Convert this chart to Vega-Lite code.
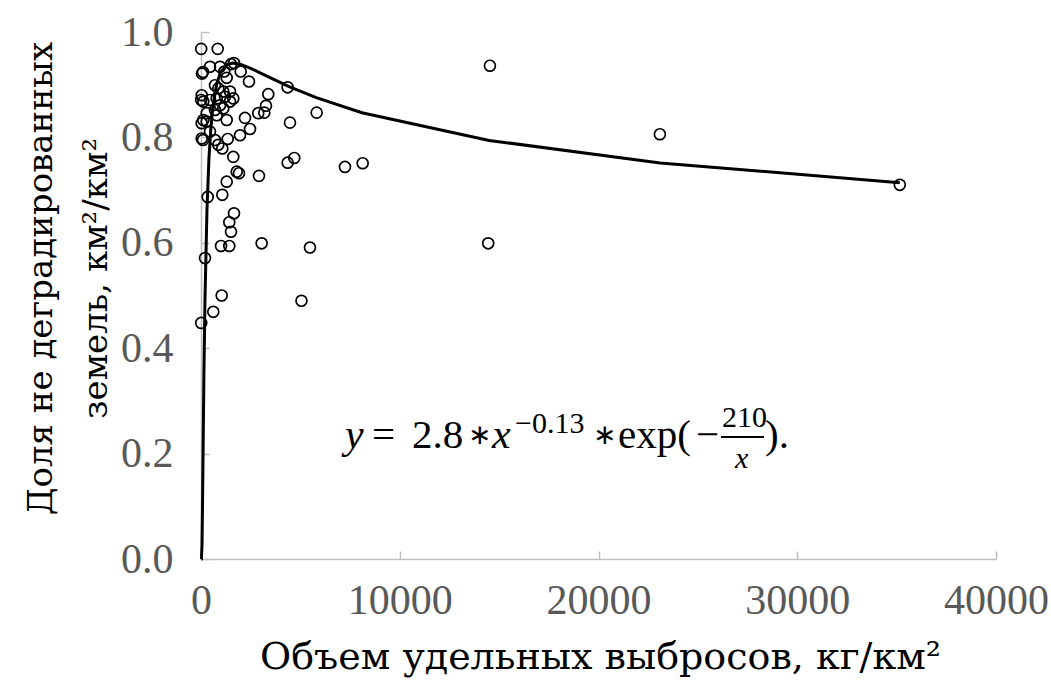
{
  "$schema": "https://vega.github.io/schema/vega-lite/v6.json",
  "width": 795,
  "height": 527,
  "autosize": {"type": "none"},
  "padding": {"left": 201, "top": 32, "right": 55, "bottom": 124},
  "background": "white",
  "config": {
    "view": {"stroke": null},
    "font": "Liberation Serif",
    "axis": {
      "grid": false,
      "domainColor": "#bfbfbf",
      "domainWidth": 1.5,
      "tickColor": "#bfbfbf",
      "tickWidth": 1.5,
      "tickSize": -8,
      "labelFlush": false,
      "labelOverlap": false,
      "labelFont": "Liberation Serif",
      "labelFontSize": 42,
      "labelColor": "#595959",
      "titleColor": "#000000",
      "titleFontWeight": "normal"
    }
  },
  "datasets": {
    "pts": [
      {"x": 10, "y": 0.968}, {"x": 840, "y": 0.968},
      {"x": 1660, "y": 0.941}, {"x": 1509, "y": 0.939},
      {"x": 100, "y": 0.924}, {"x": 50, "y": 0.921}, {"x": 453, "y": 0.934}, {"x": 956, "y": 0.934}, {"x": 1172, "y": 0.925}, {"x": 1997, "y": 0.925},
      {"x": 1293, "y": 0.913}, {"x": 2414, "y": 0.906},
      {"x": 704, "y": 0.899}, {"x": 870, "y": 0.893}, {"x": 4360, "y": 0.895}, {"x": 1122, "y": 0.887}, {"x": 1459, "y": 0.887}, {"x": 3385, "y": 0.882},
      {"x": 35, "y": 0.880}, {"x": 10, "y": 0.871}, {"x": 116, "y": 0.868}, {"x": 453, "y": 0.871}, {"x": 790, "y": 0.874}, {"x": 1207, "y": 0.877}, {"x": 1625, "y": 0.874}, {"x": 1459, "y": 0.868},
      {"x": 956, "y": 0.861}, {"x": 3270, "y": 0.860}, {"x": 1122, "y": 0.855}, {"x": 704, "y": 0.852}, {"x": 3185, "y": 0.847}, {"x": 2880, "y": 0.846}, {"x": 5820, "y": 0.847}, {"x": 287, "y": 0.846}, {"x": 790, "y": 0.842},
      {"x": 2213, "y": 0.837}, {"x": 1293, "y": 0.833}, {"x": 116, "y": 0.833}, {"x": 4477, "y": 0.828}, {"x": 35, "y": 0.827}, {"x": 287, "y": 0.830},
      {"x": 2465, "y": 0.816}, {"x": 453, "y": 0.811}, {"x": 1962, "y": 0.804}, {"x": 23088, "y": 0.806}, {"x": 35, "y": 0.798}, {"x": 100, "y": 0.795}, {"x": 704, "y": 0.795}, {"x": 1343, "y": 0.797},
      {"x": 870, "y": 0.786}, {"x": 1071, "y": 0.779},
      {"x": 1625, "y": 0.763}, {"x": 4693, "y": 0.761}, {"x": 4361, "y": 0.752}, {"x": 8134, "y": 0.751}, {"x": 7243, "y": 0.744},
      {"x": 1796, "y": 0.735}, {"x": 1911, "y": 0.732}, {"x": 2917, "y": 0.727}, {"x": 1293, "y": 0.716}, {"x": 35160, "y": 0.710},
      {"x": 1071, "y": 0.691}, {"x": 337, "y": 0.687}, {"x": 1660, "y": 0.656}, {"x": 1423, "y": 0.639}, {"x": 1509, "y": 0.621},
      {"x": 1006, "y": 0.594}, {"x": 1423, "y": 0.594}, {"x": 3053, "y": 0.599}, {"x": 14451, "y": 0.599}, {"x": 5483, "y": 0.591},
      {"x": 201, "y": 0.571}, {"x": 1041, "y": 0.500}, {"x": 5055, "y": 0.490}, {"x": 619, "y": 0.469}, {"x": 10, "y": 0.448},
      {"x": 14537, "y": 0.936}
    ],
    "curve": [
      {"x": 5, "y": 0.0}, {"x": 20, "y": 0.0001}, {"x": 50, "y": 0.0252}, {"x": 80, "y": 0.1148},
      {"x": 100, "y": 0.1884}, {"x": 150, "y": 0.360}, {"x": 200, "y": 0.4921}, {"x": 300, "y": 0.6625},
      {"x": 400, "y": 0.7602}, {"x": 500, "y": 0.8201}, {"x": 600, "y": 0.8590}, {"x": 800, "y": 0.9031},
      {"x": 1000, "y": 0.9246}, {"x": 1300, "y": 0.9380}, {"x": 1600, "y": 0.9410}, {"x": 2000, "y": 0.9385},
      {"x": 2500, "y": 0.9310}, {"x": 3000, "y": 0.9220}, {"x": 4400, "y": 0.8970}, {"x": 5800, "y": 0.8754},
      {"x": 8100, "y": 0.8469}, {"x": 14500, "y": 0.7943}, {"x": 23100, "y": 0.7515}, {"x": 35160, "y": 0.7140}
    ],
    "eqNormal": [
      {"x": 8604, "y": 0.2106, "t": "="},
      {"x": 10616, "y": 0.2106, "t": "2.8"},
      {"x": 20981, "y": 0.2106, "t": "exp("},
      {"x": 24905, "y": 0.2106, "t": "−"},
      {"x": 28377, "y": 0.2106, "t": ")."}
    ],
    "eqStar": [
      {"x": 13434, "y": 0.2106, "t": "∗"},
      {"x": 19723, "y": 0.2106, "t": "∗"}
    ],
    "eqItalic": [
      {"x": 7245, "y": 0.2106, "t": "y"},
      {"x": 14641, "y": 0.2106, "t": "x"}
    ],
    "eqSmall": [
      {"x": 15799, "y": 0.2391, "t": "−0.13"},
      {"x": 26214, "y": 0.2505, "t": "210"}
    ],
    "eqSmallItalic": [
      {"x": 26868, "y": 0.1727, "t": "x"}
    ],
    "bar": [
      {"x": 26163, "x2": 28326, "y": 0.2315}
    ]
  },
  "encoding": {
    "x": {
      "field": "x", "type": "quantitative",
      "scale": {"domain": [0, 40000], "nice": false, "zero": true},
      "axis": {
        "values": [0, 10000, 20000, 30000, 40000],
        "format": "d",
        "labelPadding": 29,
        "title": "Объем удельных выбросов, кг/км²",
        "titleFont": "DejaVu Serif",
        "titleFontSize": 38,
        "titleX": 399,
        "titleY": 98,
        "titleBaseline": "middle",
        "titleAlign": "center"
      }
    },
    "y": {
      "field": "y", "type": "quantitative",
      "scale": {"domain": [0, 1], "nice": false},
      "axis": {
        "values": [0, 0.2, 0.4, 0.6, 0.8, 1.0],
        "format": ".1f",
        "labelPadding": 36,
        "title": ["Доля не деградированных", "земель, км²/км²"],
        "titleFont": "DejaVu Serif",
        "titleFontSize": 34,
        "titleX": -160,
        "titleY": 246,
        "titleAngle": -90,
        "titleBaseline": "middle",
        "titleAlign": "center",
        "titleLineHeight": 55
      }
    }
  },
  "layer": [
    {
      "data": {"name": "pts"},
      "mark": {"type": "point", "shape": "circle", "filled": false, "stroke": "#000000", "strokeWidth": 1.7, "size": 120, "opacity": 1}
    },
    {
      "data": {"name": "curve"},
      "mark": {"type": "line", "color": "#000000", "strokeWidth": 3}
    },
    {
      "data": {"name": "eqNormal"},
      "mark": {"type": "text", "align": "left", "baseline": "alphabetic", "fontSize": 41, "font": "Liberation Serif", "color": "#000000"},
      "encoding": {"text": {"field": "t"}}
    },
    {
      "data": {"name": "eqStar"},
      "mark": {"type": "text", "align": "left", "baseline": "alphabetic", "fontSize": 28, "font": "DejaVu Sans", "color": "#000000", "dy": -4},
      "encoding": {"text": {"field": "t"}}
    },
    {
      "data": {"name": "eqItalic"},
      "mark": {"type": "text", "align": "left", "baseline": "alphabetic", "fontSize": 42, "font": "Liberation Serif", "fontStyle": "italic", "color": "#000000"},
      "encoding": {"text": {"field": "t"}}
    },
    {
      "data": {"name": "eqSmall"},
      "mark": {"type": "text", "align": "left", "baseline": "alphabetic", "fontSize": 30, "font": "Liberation Serif", "color": "#000000"},
      "encoding": {"text": {"field": "t"}}
    },
    {
      "data": {"name": "eqSmallItalic"},
      "mark": {"type": "text", "align": "left", "baseline": "alphabetic", "fontSize": 30, "font": "Liberation Serif", "fontStyle": "italic", "color": "#000000"},
      "encoding": {"text": {"field": "t"}}
    },
    {
      "data": {"name": "bar"},
      "mark": {"type": "rule", "color": "#000000", "strokeWidth": 2},
      "encoding": {"x2": {"field": "x2"}}
    }
  ]
}
